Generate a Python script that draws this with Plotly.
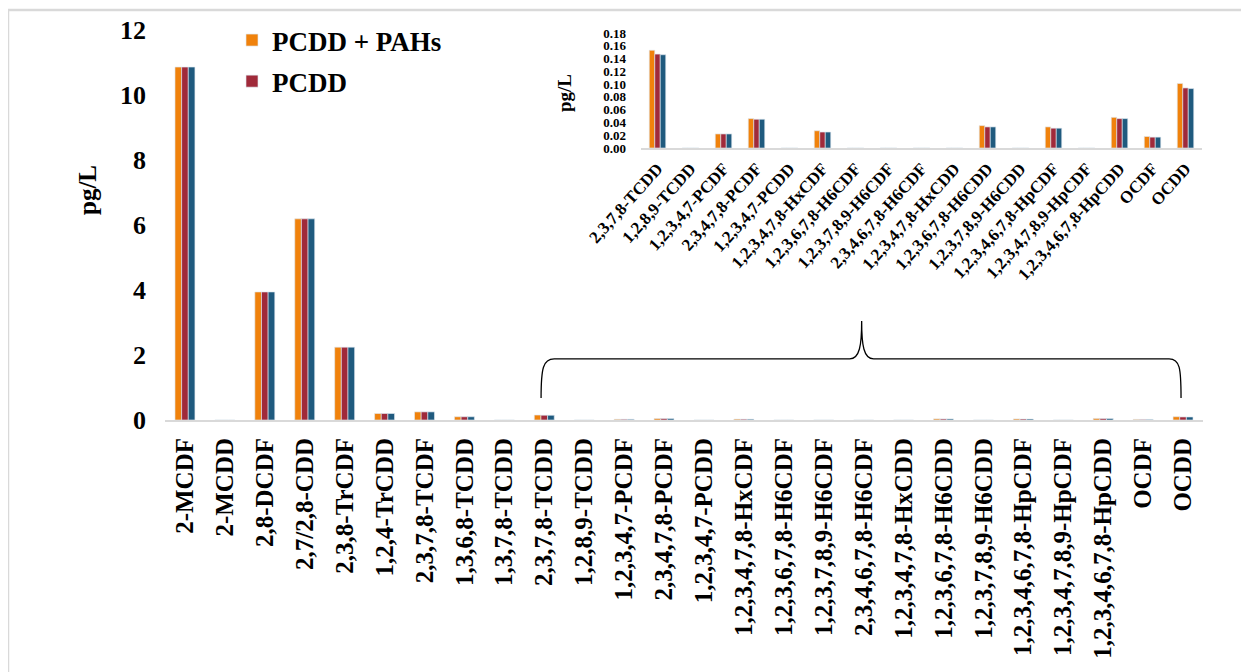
import plotly.graph_objects as go

categories = ["2-MCDF", "2-MCDD", "2,8-DCDF", "2,7/2,8-CDD", "2,3,8-TrCDF", "1,2,4-TrCDD",
              "2,3,7,8-TCDF", "1,3,6,8-TCDD", "1,3,7,8-TCDD", "2,3,7,8-TCDD", "1,2,8,9-TCDD",
              "1,2,3,4,7-PCDF", "2,3,4,7,8-PCDF", "1,2,3,4,7-PCDD", "1,2,3,4,7,8-HxCDF",
              "1,2,3,6,7,8-H6CDF", "1,2,3,7,8,9-H6CDF", "2,3,4,6,7,8-H6CDF", "1,2,3,4,7,8-HxCDD",
              "1,2,3,6,7,8-H6CDD", "1,2,3,7,8,9-H6CDD", "1,2,3,4,6,7,8-HpCDF", "1,2,3,4,7,8,9-HpCDF",
              "1,2,3,4,6,7,8-HpCDD", "OCDF", "OCDD"]

pcdd_pahs = [10.86, 0, 3.94, 6.19, 2.24, 0.20, 0.25, 0.10, 0, 0.153, 0, 0.022, 0.046, 0, 0.027,
             0, 0, 0, 0, 0.035, 0, 0.033, 0, 0.048, 0.018, 0.101]
pcdd = [10.86, 0, 3.94, 6.19, 2.24, 0.20, 0.25, 0.10, 0, 0.147, 0, 0.022, 0.045, 0, 0.025,
        0, 0, 0, 0, 0.033, 0, 0.031, 0, 0.046, 0.017, 0.094]
third = [10.86, 0, 3.94, 6.19, 2.24, 0.20, 0.25, 0.10, 0, 0.146, 0, 0.022, 0.045, 0, 0.025,
         0, 0, 0, 0, 0.033, 0, 0.031, 0, 0.046, 0.017, 0.093]

inset_start = 9
main_ticks = [0, 2, 4, 6, 8, 10, 12]
inset_ticks = [0.00, 0.02, 0.04, 0.06, 0.08, 0.10, 0.12, 0.14, 0.16, 0.18]

series = [("PCDD + PAHs", pcdd_pahs, "#F0820C", True),
          ("PCDD", pcdd, "#A02A3A", True),
          ("Series 3", third, "#1F5A7E", False)]

FONT = "Liberation Serif"
OFF = 8  # page body margin (screen px -> figure px)
W, H = 1241, 664
X0, X1, Y0, Y1 = 165, 1203, 30, 420  # plot area in screen px
L, R, T, B = X0 - OFF, W - (X1 - OFF), Y0 - OFF, H - (Y1 - OFF)
PW, PH = W - L - R, H - T - B


def px(x):
    return (x - OFF - L) / PW


def py(y):
    return (Y1 - y) / PH


fig = go.Figure()
xi = list(range(len(categories)))
xi2 = list(range(len(categories) - inset_start))
for i, (name, vals, col, show) in enumerate(series):
    fig.add_trace(go.Bar(x=xi, y=vals, name=name, marker_color=col,
                         marker_line=dict(color="rgba(225,232,240,0.9)", width=0.7),
                         showlegend=show, legendgroup="g%d" % i, xaxis="x", yaxis="y"))
for i, (name, vals, col, show) in enumerate(series):
    fig.add_trace(go.Bar(x=xi2, y=vals[inset_start:], name=name, marker_color=col,
                         marker_line=dict(color="rgba(225,232,240,0.9)", width=0.7),
                         showlegend=False, legendgroup="g%d" % i, xaxis="x2", yaxis="y2"))

fig.update_layout(
    width=W, height=H, autosize=False,
    margin=dict(l=L, r=R, t=T, b=B, autoexpand=False),
    paper_bgcolor="white", plot_bgcolor="rgba(0,0,0,0)",
    barmode="group", bargap=0.5, bargroupgap=0,
    font=dict(family=FONT, color="black", weight="bold"),
    xaxis=dict(domain=[0, 1], range=[-0.5, len(categories) - 0.5], tickvals=xi, ticktext=categories,
               tickangle=-90, tickfont=dict(size=25, family=FONT, weight="bold"),
               showline=True, linecolor="#D9D9D9", linewidth=2, showgrid=False, zeroline=False,
               ticks="", ticklabelstandoff=6),
    yaxis=dict(domain=[0, 1], range=[0, 12], tickvals=main_ticks,
               tickfont=dict(size=26, family=FONT, weight="bold"),
               showline=False, showgrid=False, zeroline=False, ticks="", ticklabelstandoff=18),
    xaxis2=dict(domain=[px(641), px(1202)], anchor="y2",
                range=[-0.5, len(xi2) - 0.5], tickvals=xi2, ticktext=categories[inset_start:],
                tickangle=-48, tickfont=dict(size=17, family=FONT, weight="bold"),
                showline=True, linecolor="#D9D9D9", linewidth=2, showgrid=False, zeroline=False,
                ticks="", ticklabelstandoff=2),
    yaxis2=dict(domain=[py(148), py(33)], anchor="x2", range=[0, 0.18], tickvals=inset_ticks,
                tickformat=".2f", tickfont=dict(size=13, family=FONT, weight="bold"),
                showline=False, showgrid=False, zeroline=False, ticks="", ticklabelstandoff=14),
    legend=dict(x=px(232), y=py(16), xanchor="left", yanchor="top", bgcolor="rgba(0,0,0,0)",
                font=dict(size=27, family=FONT, weight="bold"), tracegroupgap=3,
                itemwidth=30),
    showlegend=True,
)

fig.add_annotation(text="pg/L", x=px(87), y=py(190), xref="paper", yref="paper",
                   xanchor="center", yanchor="middle",
                   textangle=-90, showarrow=False, font=dict(size=25, family=FONT, weight="bold"))
fig.add_annotation(text="pg/L", x=px(564), y=py(93), xref="paper", yref="paper",
                   xanchor="center", yanchor="middle",
                   textangle=-90, showarrow=False, font=dict(size=19, family=FONT, weight="bold"))

# curly brace linking the low-concentration group to the inset
fig.add_shape(type="path", xref="x", yref="y", line=dict(color="black", width=1.3),
              path=("M 8.92,0.68 C 8.92,1.6 8.97,1.88 9.25,1.88 L 16.65,1.88 "
                    "C 16.9,1.88 16.95,2.3 16.95,3.05 C 16.95,2.3 17.0,1.88 17.25,1.88 "
                    "L 24.65,1.88 C 24.92,1.88 24.95,1.6 24.95,0.68"))

# outer frame
fig.add_shape(type="line", xref="paper", yref="paper", x0=px(8), x1=px(8), y0=py(10), y1=py(700),
              line=dict(color="#D9D9D9", width=2.5))
fig.add_shape(type="line", xref="paper", yref="paper", x0=px(8), x1=px(1300), y0=py(10), y1=py(10),
              line=dict(color="#D9D9D9", width=2.5))

fig.write_html("out.html")
